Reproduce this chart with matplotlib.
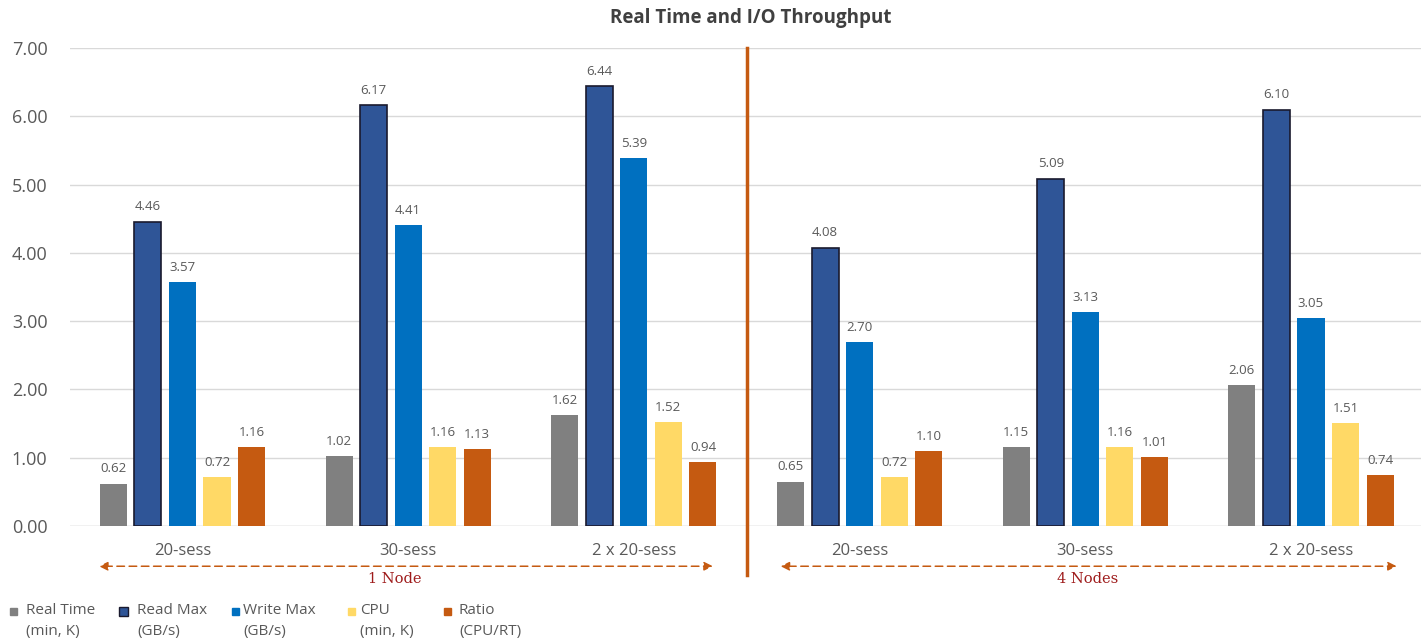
import numpy as np
import matplotlib.pyplot as plt
from matplotlib.patches import Rectangle

plt.rcParams['font.family'] = ['Open Sans', 'DejaVu Sans']

# session setups, first three on 1 node, last three on 4 nodes
groups = ['20-sess', '30-sess', '2 x 20-sess', '20-sess', '30-sess', '2 x 20-sess']
real_time = [0.62, 1.02, 1.62, 0.65, 1.15, 2.06]
read_max = [4.46, 6.17, 6.44, 4.08, 5.09, 6.10]
write_max = [3.57, 4.41, 5.39, 2.70, 3.13, 3.05]
cpu = [0.72, 1.16, 1.52, 0.72, 1.16, 1.51]
ratio = [1.16, 1.13, 0.94, 1.10, 1.01, 0.74]

series_names = ['Real Time', 'Read Max', 'Write Max', 'CPU', 'Ratio']
series_units = ['(min, K)', '(GB/s)', '(GB/s)', '(min, K)', '(CPU/RT)']
colors = ['#808080', '#2F5597', '#0070C0', '#FFD966', '#C55A11']
edges = ['none', '#1a1a2e', 'none', 'none', 'none']

fig = plt.figure(figsize=(14.21, 6.43), dpi=100)
ax = fig.add_axes([0.049, 0.182, 0.953, 0.743])

x = np.arange(len(groups))
step = 0.153
width = 0.12
series = [real_time, read_max, write_max, cpu, ratio]
for k, vals in enumerate(series):
    pos = x + (k - 2) * step
    bars = ax.bar(pos, vals, width, color=colors[k], edgecolor=edges[k],
                  linewidth=1.2 if edges[k] != 'none' else 0, zorder=3)
    for b, v in zip(bars, vals):
        ax.text(b.get_x() + b.get_width() / 2, v + 0.12, f'{v:.2f}',
                ha='center', va='bottom', fontsize=9.5, color='#595959')

ax.set_xlim(-0.5, 5.5)
ax.set_ylim(0, 7)
ax.set_yticks(np.arange(0, 8, 1))
ax.set_yticklabels([f'{v:.2f}' for v in range(8)], fontsize=13, color='#595959')
ax.yaxis.grid(True, color='#d9d9d9', linewidth=1, zorder=0)
ax.tick_params(axis='y', length=0, pad=16)
ax.tick_params(axis='x', length=0, pad=12)
for s in ax.spines.values():
    s.set_visible(False)
ax.axhline(0, color='#d9d9d9', linewidth=1, zorder=1)

ax.set_xticks(x)
ax.set_xticklabels(groups, fontsize=12, color='#595959')

# node spans
arrow_y = -0.59
for x0, x1 in [(-0.37, 2.35), (2.65, 5.38)]:
    ax.annotate('', xy=(x0, arrow_y), xytext=(x1, arrow_y), xycoords='data',
                annotation_clip=False,
                arrowprops=dict(arrowstyle='<|-|>', color='#C55A11', lw=1.1,
                                ls=(0, (5, 3)), mutation_scale=13, shrinkA=0, shrinkB=0))
ax.text(0.94, -0.77, '1 Node', ha='center', va='center', fontsize=10.5,
        color='#9E1B1B', family='DejaVu Serif', clip_on=False)
ax.text(4.01, -0.77, '4 Nodes', ha='center', va='center', fontsize=10.5,
        color='#9E1B1B', family='DejaVu Serif', clip_on=False)

ax.plot([2.5, 2.5], [7.0, -0.72], color='#C55A11', lw=2.5, clip_on=False, zorder=4)

fig.text(0.528, 0.972, 'Real Time and I/O Throughput', ha='center', va='center',
         fontsize=13.5, fontweight='bold', color='#404040')

# legend drawn by hand, two-line labels
W, H = 1421, 643
sq_x = [10, 119, 232, 348, 444]
txt_x = [26, 137, 243, 360, 459]
for k in range(5):
    sq = 9 if k == 1 else 7
    fig.patches.append(Rectangle((sq_x[k] / W, 1 - (611 + sq / 2) / H), sq / W, sq / H,
                                 transform=fig.transFigure, facecolor=colors[k],
                                 edgecolor=edges[k] if edges[k] != 'none' else colors[k],
                                 linewidth=1))
    fig.text(txt_x[k] / W, 1 - 611 / H, series_names[k], ha='left', va='center',
             fontsize=11, color='#595959')
    fig.text(txt_x[k] / W, 1 - 631 / H, series_units[k], ha='left', va='center',
             fontsize=11, color='#595959')

fig.savefig('out.png', dpi=100)
